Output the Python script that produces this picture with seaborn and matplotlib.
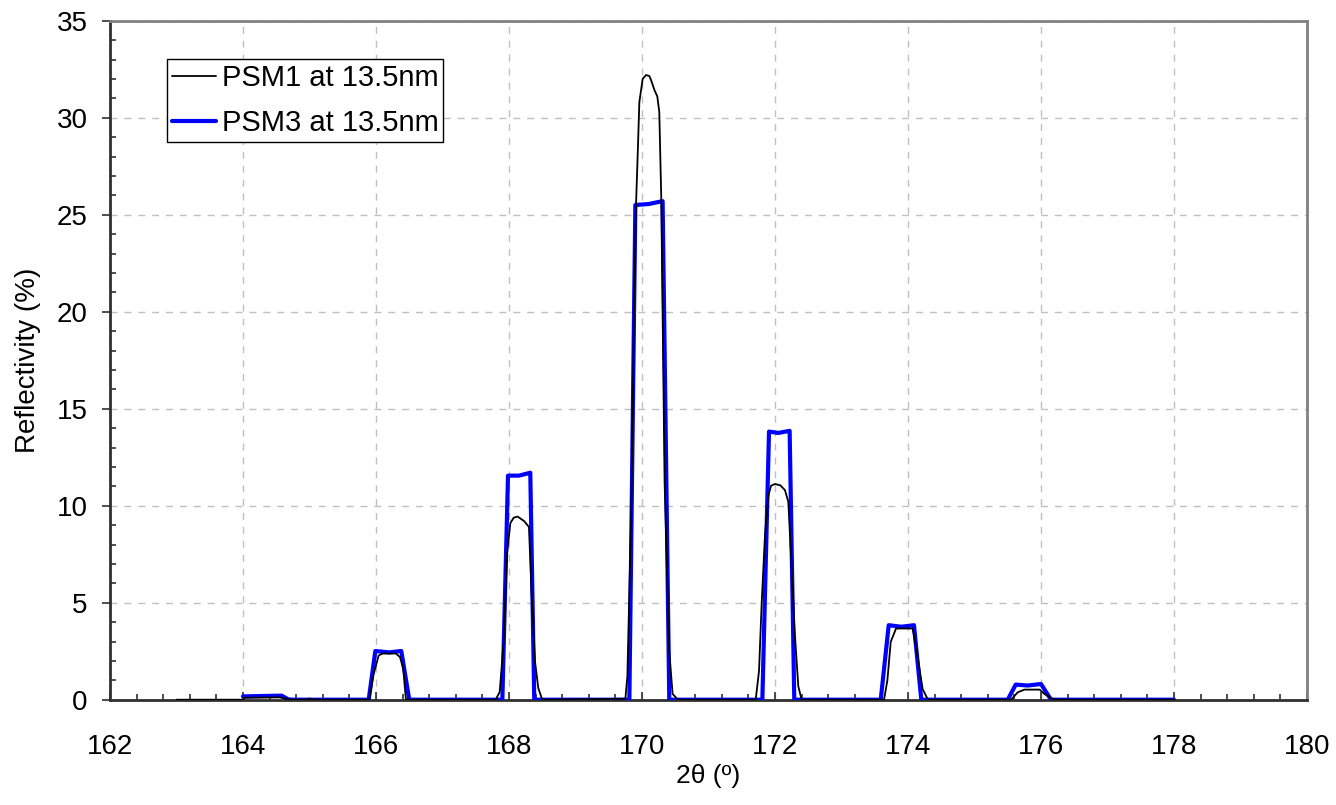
import matplotlib
matplotlib.use("Agg")
import matplotlib.pyplot as plt
from matplotlib.ticker import MultipleLocator
import seaborn as sns
import pandas as pd

# ---- data ----
psm1_x = [163.0, 164.0, 164.02, 164.55, 164.72, 164.95, 165.0, 165.05,
          165.90, 165.96, 166.04, 166.10, 166.30, 166.36, 166.41, 166.45,
          167.80, 167.86, 167.92, 167.97, 168.02, 168.07, 168.13, 168.23, 168.30, 168.34, 168.39, 168.44, 168.50,
          169.75, 169.78, 169.84, 169.88, 169.91, 169.94, 169.96, 170.01, 170.06, 170.11, 170.14, 170.19, 170.23,
          170.26, 170.29, 170.34, 170.41, 170.46, 170.54,
          171.71, 171.76, 171.80, 171.85, 171.90, 171.94, 172.00, 172.08, 172.15, 172.20, 172.24, 172.30, 172.35, 172.40,
          173.64, 173.69, 173.74, 173.82, 174.07, 174.15, 174.22, 174.30,
          175.55, 175.65, 175.75, 175.98, 176.05, 176.18, 176.25, 178.0]
psm1_y = [0.0, 0.0, 0.10, 0.12, 0.0, 0.0, 0.06, 0.0,
          0.0, 1.25, 2.28, 2.38, 2.38, 2.2, 1.6, 0.0,
          0.0, 0.4, 3.0, 7.5, 9.1, 9.38, 9.44, 9.2, 8.9, 5.5, 2.0, 0.6, 0.0,
          0.05, 1.2, 10.0, 20.0, 25.5, 28.6, 30.8, 32.0, 32.2, 32.15, 31.9, 31.4, 31.1,
          30.3, 25.8, 11.2, 2.5, 0.3, 0.0,
          0.0, 1.5, 5.0, 8.5, 10.5, 11.03, 11.12, 11.05, 10.8, 10.2, 7.5, 3.3, 0.7, 0.0,
          0.0, 1.0, 2.98, 3.67, 3.67, 2.1, 0.55, 0.0,
          0.0, 0.38, 0.52, 0.52, 0.3, 0.03, 0.0, 0.0]

psm3_x = [164.0, 164.58, 164.68, 164.75,
          165.89, 165.99, 166.20, 166.38, 166.50,
          167.90, 167.985, 168.15, 168.32, 168.38,
          169.81, 169.90, 170.10, 170.31, 170.41,
          171.81, 171.91, 172.05, 172.22, 172.29,
          173.59, 173.71, 173.90, 174.09, 174.20,
          175.50, 175.62, 175.80, 176.00, 176.15, 178.0]
psm3_y = [0.17, 0.21, 0.02, 0.0,
          0.0, 2.51, 2.44, 2.51, 0.0,
          0.0, 11.55, 11.55, 11.7, 0.0,
          0.0, 25.5, 25.55, 25.7, 0.0,
          0.0, 13.82, 13.75, 13.86, 0.0,
          0.0, 3.84, 3.76, 3.84, 0.0,
          0.0, 0.78, 0.73, 0.81, 0.0, 0.0]

labels = ["PSM1 at 13.5nm", "PSM3 at 13.5nm"]
xlabel = "2\u03b8 (\u00ba)"
ylabel = "Reflectivity (%)"

sns.set_style("white")
plt.rcParams['font.family'] = ['Liberation Sans', 'DejaVu Sans']
plt.rcParams['text.color'] = 'black'
plt.rcParams['axes.labelcolor'] = 'black'
plt.rcParams['xtick.labelcolor'] = 'black'
plt.rcParams['ytick.labelcolor'] = 'black'

fig = plt.figure(figsize=(13.36, 8.05), dpi=100)
ax = fig.add_axes([110 / 1336, 1 - 699.7 / 805, 1197 / 1336, 679 / 805])

df1 = pd.DataFrame({"x": psm1_x, "y": psm1_y})
df3 = pd.DataFrame({"x": psm3_x, "y": psm3_y})
sns.lineplot(data=df1, x="x", y="y", ax=ax, color="black", linewidth=1.3,
             sort=False, estimator=None, label=labels[0], zorder=4)
sns.lineplot(data=df3, x="x", y="y", ax=ax, color="#0000ff", linewidth=3.0,
             sort=False, estimator=None, label=labels[1], zorder=3,
             solid_capstyle="round", solid_joinstyle="round")

ax.set_xlim(162, 180)
ax.set_ylim(0, 35)
ax.xaxis.set_major_locator(MultipleLocator(2))
ax.xaxis.set_minor_locator(MultipleLocator(0.4))
ax.yaxis.set_major_locator(MultipleLocator(5))
ax.yaxis.set_minor_locator(MultipleLocator(1))

ax.grid(True, which="major", color="#c0c0c0", linestyle=(0, (5, 5)), linewidth=1.0)
ax.set_axisbelow(True)

for s in ["top", "right"]:
    ax.spines[s].set_color("#808080")
    ax.spines[s].set_linewidth(2.0)
for s in ["left", "bottom"]:
    ax.spines[s].set_color("#303030")
    ax.spines[s].set_linewidth(2.0)

ax.tick_params(bottom=True, left=True, top=False, right=False, which="both")
ax.tick_params(axis="x", which="major", direction="in", length=6, width=1.2,
               color="#303030", labelsize=20, pad=25)
ax.tick_params(axis="x", which="minor", direction="in", length=4, width=1.2, color="#303030")
ax.tick_params(axis="y", which="major", direction="out", length=6, width=1.2,
               color="#303030", labelsize=20, pad=10)
ax.tick_params(axis="y", which="minor", direction="in", length=4, width=1.2, color="#303030")

ax.set_xlabel(xlabel, fontsize=19)
ax.set_ylabel(ylabel, fontsize=20)
ax.xaxis.set_label_coords(0.5, (699.7 - 764) / 679)
ax.xaxis.label.set_va("top")
ax.yaxis.set_label_coords((28 - 110) / 1197, 0.5)
ax.yaxis.label.set_va("center")

leg = ax.legend(loc="upper left", bbox_to_anchor=((167 - 110) / 1197, (699.7 - 59) / 679),
                borderaxespad=0, frameon=True, fancybox=False, fontsize=21,
                handlelength=1.5, handletextpad=0.2, borderpad=0.17, labelspacing=0.6)
leg.get_frame().set_edgecolor("black")
leg.get_frame().set_linewidth(1.0)
leg.get_frame().set_alpha(1)

fig.savefig("out.png", dpi=100)
